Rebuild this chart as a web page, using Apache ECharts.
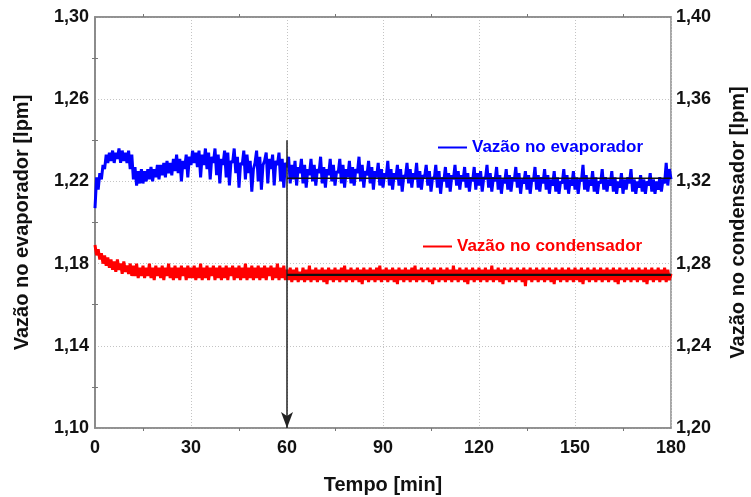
<!DOCTYPE html>
<html>
<head>
<meta charset="utf-8">
<script src="https://cdn.jsdelivr.net/npm/echarts@6/dist/echarts.min.js"></script>
<style>html,body{margin:0;padding:0;background:#fff;overflow:hidden}#c{width:751px;height:497px}</style>
</head>
<body>
<div id="c"></div>
<script>
// sampling step of the recorded series [min]
const sampleStep = 0.5;
const xTicks = [0, 30, 60, 90, 120, 150, 180];
const leftTicks = [1.10, 1.14, 1.18, 1.22, 1.26, 1.30];
const rightTicks = [1.20, 1.24, 1.28, 1.32, 1.36, 1.40];

// Vazão no evaporador [lpm] (left axis)
const evapFlow = [
1.207,1.222,1.216,1.224,1.221,1.228,1.226,1.233,1.229,1.234,
1.230,1.235,1.229,1.234,1.231,1.236,1.229,1.235,1.230,1.234,
1.229,1.235,1.226,1.233,1.221,1.227,1.218,1.225,1.219,1.226,
1.219,1.225,1.220,1.226,1.221,1.227,1.220,1.226,1.222,1.228,
1.221,1.228,1.223,1.229,1.222,1.230,1.224,1.229,1.223,1.231,
1.225,1.233,1.224,1.231,1.220,1.230,1.226,1.233,1.222,1.232,
1.228,1.235,1.229,1.234,1.227,1.235,1.222,1.233,1.228,1.236,
1.226,1.234,1.221,1.232,1.229,1.236,1.223,1.233,1.219,1.231,
1.228,1.235,1.222,1.234,1.218,1.230,1.229,1.236,1.224,1.232,
1.217,1.229,1.228,1.235,1.221,1.233,1.224,1.230,1.215,1.226,
1.229,1.235,1.220,1.232,1.216,1.228,1.230,1.234,1.219,1.231,
1.226,1.233,1.218,1.230,1.228,1.234,1.220,1.231,1.217,1.229,
1.227,1.232,1.219,1.228,1.221,1.230,1.218,1.227,1.224,1.231,
1.219,1.228,1.217,1.226,1.223,1.231,1.220,1.228,1.218,1.226,
1.224,1.232,1.219,1.227,1.217,1.226,1.223,1.231,1.220,1.228,
1.218,1.225,1.224,1.231,1.219,1.228,1.217,1.226,1.222,1.230,
1.219,1.227,1.218,1.226,1.224,1.232,1.220,1.228,1.217,1.225,
1.223,1.230,1.219,1.227,1.216,1.225,1.222,1.229,1.218,1.226,
1.217,1.224,1.222,1.230,1.218,1.226,1.216,1.224,1.221,1.228,
1.218,1.226,1.215,1.223,1.222,1.229,1.219,1.226,1.217,1.224,
1.221,1.229,1.217,1.225,1.216,1.223,1.222,1.228,1.218,1.225,
1.215,1.222,1.221,1.228,1.217,1.225,1.214,1.222,1.220,1.227,
1.217,1.224,1.215,1.223,1.221,1.228,1.218,1.225,1.216,1.223,
1.220,1.227,1.217,1.224,1.215,1.222,1.220,1.227,1.216,1.224,
1.218,1.225,1.215,1.222,1.221,1.228,1.217,1.224,1.215,1.222,
1.220,1.227,1.216,1.223,1.214,1.221,1.219,1.226,1.216,1.223,
1.215,1.222,1.220,1.227,1.217,1.224,1.214,1.221,1.219,1.225,
1.216,1.223,1.214,1.221,1.220,1.227,1.216,1.223,1.215,1.222,
1.219,1.226,1.216,1.223,1.214,1.221,1.218,1.225,1.215,1.222,
1.214,1.220,1.219,1.226,1.216,1.223,1.214,1.221,1.218,1.225,
1.216,1.222,1.214,1.221,1.220,1.228,1.216,1.223,1.215,1.221,
1.218,1.225,1.215,1.222,1.214,1.220,1.219,1.226,1.216,1.222,
1.215,1.221,1.218,1.225,1.215,1.222,1.214,1.220,1.217,1.224,
1.214,1.221,1.216,1.222,1.219,1.226,1.215,1.221,1.214,1.220,
1.217,1.223,1.215,1.221,1.214,1.220,1.218,1.224,1.215,1.221,
1.214,1.220,1.216,1.222,1.215,1.221,1.219,1.229,1.218,1.226,
1.221
];

// Vazão no condensador [lpm] (right axis)
const condFlow = [
1.289,1.284,1.287,1.282,1.285,1.280,1.284,1.279,1.283,1.278,
1.282,1.277,1.281,1.276,1.282,1.277,1.280,1.275,1.281,1.276,
1.279,1.275,1.280,1.274,1.279,1.274,1.280,1.273,1.278,1.274,
1.279,1.273,1.278,1.274,1.280,1.273,1.278,1.272,1.279,1.274,
1.278,1.273,1.279,1.272,1.278,1.274,1.280,1.273,1.278,1.272,
1.279,1.273,1.278,1.272,1.279,1.274,1.278,1.272,1.279,1.273,
1.278,1.273,1.279,1.272,1.278,1.273,1.280,1.272,1.278,1.273,
1.279,1.272,1.278,1.274,1.279,1.272,1.278,1.273,1.279,1.272,
1.278,1.273,1.279,1.272,1.278,1.274,1.279,1.272,1.278,1.273,
1.279,1.272,1.278,1.273,1.280,1.272,1.278,1.273,1.279,1.272,
1.278,1.273,1.279,1.272,1.278,1.273,1.279,1.272,1.278,1.274,
1.279,1.272,1.278,1.273,1.280,1.272,1.278,1.273,1.279,1.272,
1.277,1.272,1.278,1.271,1.277,1.272,1.278,1.271,1.276,1.272,
1.278,1.271,1.277,1.272,1.279,1.271,1.277,1.272,1.278,1.271,
1.277,1.272,1.278,1.271,1.277,1.270,1.278,1.272,1.277,1.271,
1.278,1.272,1.277,1.271,1.278,1.272,1.279,1.271,1.277,1.272,
1.278,1.271,1.277,1.272,1.278,1.271,1.277,1.270,1.278,1.272,
1.277,1.271,1.278,1.272,1.277,1.271,1.278,1.272,1.279,1.271,
1.277,1.272,1.278,1.271,1.277,1.272,1.278,1.271,1.277,1.270,
1.278,1.272,1.277,1.271,1.278,1.272,1.277,1.271,1.278,1.272,
1.279,1.271,1.277,1.272,1.278,1.271,1.277,1.272,1.278,1.271,
1.277,1.270,1.278,1.272,1.277,1.271,1.278,1.272,1.277,1.271,
1.278,1.272,1.277,1.271,1.279,1.272,1.277,1.271,1.278,1.272,
1.277,1.271,1.278,1.270,1.277,1.272,1.278,1.271,1.277,1.272,
1.278,1.271,1.277,1.272,1.278,1.271,1.277,1.272,1.279,1.271,
1.277,1.272,1.278,1.271,1.277,1.270,1.278,1.272,1.277,1.271,
1.278,1.272,1.277,1.271,1.278,1.272,1.277,1.271,1.278,1.269,
1.277,1.272,1.278,1.271,1.277,1.272,1.278,1.271,1.277,1.272,
1.278,1.271,1.277,1.272,1.278,1.271,1.277,1.270,1.278,1.272,
1.277,1.271,1.278,1.272,1.277,1.271,1.278,1.272,1.277,1.271,
1.278,1.272,1.277,1.271,1.278,1.270,1.277,1.272,1.278,1.271,
1.277,1.272,1.278,1.271,1.277,1.272,1.278,1.271,1.277,1.272,
1.278,1.271,1.277,1.272,1.278,1.271,1.277,1.270,1.278,1.272,
1.277,1.271,1.278,1.272,1.277,1.271,1.278,1.272,1.277,1.271,
1.278,1.272,1.277,1.271,1.278,1.270,1.277,1.272,1.278,1.271,
1.277,1.272,1.278,1.271,1.277,1.272,1.278,1.271,1.277,1.272,
1.275
];

// annotations: steady-state averages from minute 60, and arrow marker
const steadyStart = 60;
const steadyEnd = 180;
const evapMean = 1.2215;
const condMean = 1.2745;
const arrowTop = 1.240;
const arrowBottom = 1.10;

const evapData = evapFlow.map((v, i) => [i * sampleStep, v]);
const condData = condFlow.map((v, i) => [i * sampleStep, v]);

const FONT = '"Liberation Sans", Arial, sans-serif';
const fmt = v => v.toFixed(2).replace('.', ',');
const labelStyle = { fontFamily: FONT, fontWeight: 'bold', fontSize: 18, color: '#111' };
const nameStyle = { fontFamily: FONT, fontWeight: 'bold', fontSize: 20, color: '#111' };
const axisLine = { show: true, lineStyle: { color: '#8a8a8a', width: 1.5 } };
const splitLine = { show: true, lineStyle: { color: '#c4c4c4', type: [1, 2], width: 1 } };
const minorTick = { show: true, splitNumber: 2, length: 3, lineStyle: { color: '#777' } };

const chart = echarts.init(document.getElementById('c'), null, { renderer: 'canvas' });
chart.setOption({
  animation: false,
  backgroundColor: '#fff',
  grid: { left: 95, right: 80, top: 17, bottom: 69, show: true, borderColor: '#8a8a8a', borderWidth: 1.5,
          containLabel: false, outerBoundsMode: 'none' },
  legend: [
    { data: ['Vazão no evaporador'], left: 438, top: 139, padding: 0, icon: 'rect', itemWidth: 29, itemHeight: 2,
      textStyle: { fontFamily: FONT, fontWeight: 'bold', fontSize: 17, color: '#0000ff' }, selectedMode: false },
    { data: ['Vazão no condensador'], left: 423, top: 238, padding: 0, icon: 'rect', itemWidth: 29, itemHeight: 2,
      textStyle: { fontFamily: FONT, fontWeight: 'bold', fontSize: 17, color: '#ff0000' }, selectedMode: false }
  ],
  xAxis: [
    { type: 'value', min: 0, max: 180, interval: 30, position: 'bottom',
      name: 'Tempo [min]', nameLocation: 'middle', nameGap: 47, nameTextStyle: nameStyle,
      axisLine, axisTick: { show: false }, minorTick,
      axisLabel: Object.assign({ margin: 11, formatter: v => String(v) }, labelStyle),
      splitLine },
    { type: 'value', min: 0, max: 180, interval: 30, position: 'top',
      axisLine, axisTick: { show: false }, axisLabel: { show: false }, minorTick,
      splitLine: { show: false } }
  ],
  yAxis: [
    { type: 'value', min: leftTicks[0], max: leftTicks[leftTicks.length - 1], interval: 0.04, position: 'left',
      name: 'Vazão no evaporador [lpm]', nameLocation: 'middle', nameGap: 63, nameRotate: 90, nameTextStyle: nameStyle,
      axisLine, axisTick: { show: false }, minorTick,
      axisLabel: Object.assign({ margin: 6, formatter: fmt }, labelStyle),
      splitLine },
    { type: 'value', min: rightTicks[0], max: rightTicks[rightTicks.length - 1], interval: 0.04, position: 'right',
      name: 'Vazão no condensador [lpm]', nameLocation: 'middle', nameGap: 57, nameRotate: 90, nameTextStyle: nameStyle,
      axisLine, axisTick: { show: false }, minorTick,
      axisLabel: Object.assign({ margin: 5, formatter: fmt }, labelStyle),
      splitLine: { show: false } }
  ],
  series: [
    { name: 'Vazão no evaporador', type: 'line', xAxisIndex: 0, yAxisIndex: 0, data: evapData,
      showSymbol: false, symbol: 'none', color: '#0000ff', lineStyle: { color: '#0000ff', width: 3 }, z: 3 },
    { name: 'Vazão no condensador', type: 'line', xAxisIndex: 0, yAxisIndex: 1, data: condData,
      showSymbol: false, symbol: 'none', color: '#ff0000', lineStyle: { color: '#ff0000', width: 3 }, z: 3 },
    { name: 'evapMean', type: 'line', xAxisIndex: 0, yAxisIndex: 0,
      data: [[steadyStart, evapMean], [steadyEnd, evapMean]], symbol: 'none',
      lineStyle: { color: '#111', width: 1.5 }, z: 5 },
    { name: 'condMean', type: 'line', xAxisIndex: 0, yAxisIndex: 1,
      data: [[steadyStart, condMean], [steadyEnd, condMean]], symbol: 'none',
      lineStyle: { color: '#111', width: 2.2 }, z: 5 },
    { name: 'arrow', type: 'line', xAxisIndex: 0, yAxisIndex: 0, data: [], z: 6,
      markLine: { silent: true, symbol: ['none', 'arrow'], symbolSize: [9, 16], label: { show: false },
        lineStyle: { color: '#222', width: 1.5, type: 'solid' },
        data: [[{ coord: [steadyStart, arrowTop] }, { coord: [steadyStart, arrowBottom] }]] } }
  ]
});
</script>
</body>
</html>
